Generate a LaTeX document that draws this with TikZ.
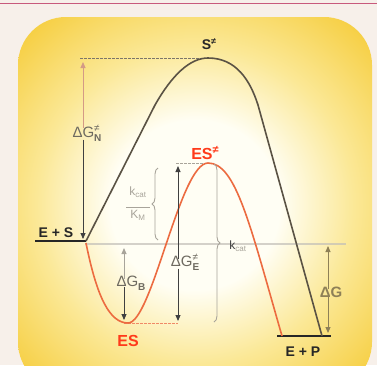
\documentclass[tikz,border=0pt]{standalone}
\usepackage{fontspec}
\setmainfont{Liberation Sans}
\usetikzlibrary{decorations.pathreplacing,arrows.meta}
\definecolor{bgc}{HTML}{F7F0EA}
\definecolor{pinkline}{HTML}{C85A7C}
\definecolor{cw}{HTML}{FFFEF4}
\definecolor{cm}{HTML}{FBE896}
\definecolor{cy}{HTML}{F6CE40}
\definecolor{co}{HTML}{F3BF18}
\definecolor{curvek}{HTML}{5A5244}
\definecolor{curver}{HTML}{EC6B40}
\definecolor{redlbl}{HTML}{FF3A1A}
\definecolor{graylbl}{HTML}{6E6A60}
\definecolor{lightg}{HTML}{A8A49A}
\definecolor{pinkarrow}{HTML}{D49A86}
\definecolor{olivec}{HTML}{7A6A3A}
\pgfdeclareradialshading{glow}{\pgfpoint{0bp}{0bp}}{color(0bp)=(cw);color(8bp)=(cw);color(15bp)=(cm);color(23bp)=(cy);color(31bp)=(co);color(50bp)=(co)}
\newcommand{\supsub}[2]{\rlap{\raisebox{0.85ex}{\fontsize{10}{10}\selectfont #1}}\raisebox{-0.45ex}{\fontsize{10}{10}\selectfont\bfseries #2}}
\tikzset{
  lvl/.style={line width=2.6pt, black!85},
  boldlbl/.style={font=\fontsize{14}{16}\selectfont\bfseries, text=black!85, inner sep=0pt},
  redl/.style={font=\fontsize{16}{18}\selectfont\bfseries, text=redlbl, inner sep=0pt},
  dglbl/.style={font=\fontsize{15}{17}\selectfont, text=graylbl, inner sep=0pt},
  darr/.style={line width=0.9pt, -{Triangle[width=5pt,length=6pt]}},
  brc/.style={decorate, decoration={brace, amplitude=6pt}, lightg, line width=0.9pt},
  dsh/.style={dashed, dash pattern=on 2.5pt off 1.5pt, line width=0.9pt}
}
\begin{document}
\begin{tikzpicture}[x=1pt,y=-1pt]
\useasboundingbox (0,0) rectangle (377,365);
\fill[bgc] (0,0) rectangle (377,365);
\draw[pinkline, line width=1.6pt] (0,3.5) -- (377,3.5);
\begin{scope}
  \clip[rounded corners=48pt] (18,17) rectangle (372,390);
  \shade[shading=glow] (195,205) circle [radius=265pt];
\end{scope}
% reference level
\coordinate (ESl) at (85,244);
\coordinate (ESr) at (346,244);
\draw[lightg!70, line width=1.8pt, opacity=0.7] (ESl) -- (ESr);
% dashed levels
\coordinate (tsL) at (80,58);
\coordinate (tsR) at (206,58);
\draw[dsh, curvek!80] (tsL) -- (tsR);
\coordinate (estsL) at (176,163);
\coordinate (estsR) at (206,163);
\draw[dsh, lightg] (estsL) -- (estsR);
\coordinate (esL) at (124,323);
\coordinate (esR) at (178,323);
\draw[dsh, curver!80] (esL) -- (esR);
% levels
\coordinate (esA) at (35,241);
\coordinate (esB) at (86,241);
\draw[lvl] (esA) -- (esB);
\coordinate (epA) at (277,336);
\coordinate (epB) at (331,336);
\draw[lvl] (epA) -- (epB);
% uncatalysed curve
\draw[curvek, line width=1.6pt] (86,241) -- (155,105) .. controls (172,75) and (190,58) .. (208,58)
  .. controls (236,58) and (250,80) .. (258,105) -- (322,336);
% catalysed curve
\draw[curver, line width=1.6pt] (86,243) .. controls (97,298) and (110,323) .. (128,323)
  .. controls (152,323) and (180,163) .. (208,163)
  .. controls (236,163) and (250,225) .. (282,336);
% labels
\node[boldlbl] (sts) at (209,44) {S\raisebox{0.6ex}{\fontsize{9}{9}\selectfont ≠}};
\node[boldlbl] (es) at (56,233) {E + S};
\node[boldlbl] (ep) at (303,352) {E + P};
\node[redl] (esl) at (128,341) {ES};
\node[redl] (estl) at (205,153) {ES\raisebox{0.6ex}{\fontsize{11}{11}\selectfont ≠}};
\node[dglbl] (dgn) at (87,133) {ΔG\supsub{≠}{N}};
\node[dglbl] (dgb) at (131,283) {ΔG\supsub{}{B}};
\node[dglbl] (dge) at (185,262) {ΔG\supsub{≠}{E}};
\node[font=\fontsize{15}{17}\selectfont\bfseries, text=olivec!85, inner sep=0pt] (dg) at (331,292) {ΔG};
\node[text=lightg, inner sep=0pt, align=center, font=\fontsize{12}{13}\selectfont] (kk) at (138,204)
  {k\textsubscript{cat}\\[-1pt]\rule{24pt}{0.5pt}\\[-2pt]K\textsubscript{M}};
\node[inner sep=0pt, font=\fontsize{12}{13}\selectfont, text=black!75] (kc) at (238,246) {k\textsubscript{\color{lightg}cat}};
% arrows
\coordinate (n1) at (83,62);
\coordinate (n2) at (83,239);
\draw[darr, pinkarrow] ([yshift=-4pt]dgn.north -| n1) -- (n1);
\draw[darr, black!75] ([yshift=2pt]dgn.south -| n2) -- (n2);
\coordinate (b1) at (124,248);
\coordinate (b2) at (124,320);
\draw[darr, lightg] ([yshift=-3pt]dgb.north -| b1) -- (b1);
\draw[darr, black!75] ([yshift=3pt]dgb.south -| b2) -- (b2);
\coordinate (e1) at (178,166);
\coordinate (e2) at (178,321);
\draw[darr, black!75] ([yshift=-6pt]dge.north -| e1) -- (e1);
\draw[darr, black!75] ([yshift=2pt]dge.south -| e2) -- (e2);
\coordinate (g1) at (328,246);
\coordinate (g2) at (328,333);
\draw[darr, olivec!85] ([yshift=-3pt]dg.north -| g1) -- (g1);
\draw[darr, olivec!85] ([yshift=3pt]dg.south -| g2) -- (g2);
% braces
\coordinate (k1) at (158,240);
\coordinate (k2) at (158,168);
\draw[brc] (k1) -- (k2);
\coordinate (m1) at (214,164);
\coordinate (m2) at (214,322);
\draw[brc] (m1) -- (m2);
\end{tikzpicture}
\end{document}
